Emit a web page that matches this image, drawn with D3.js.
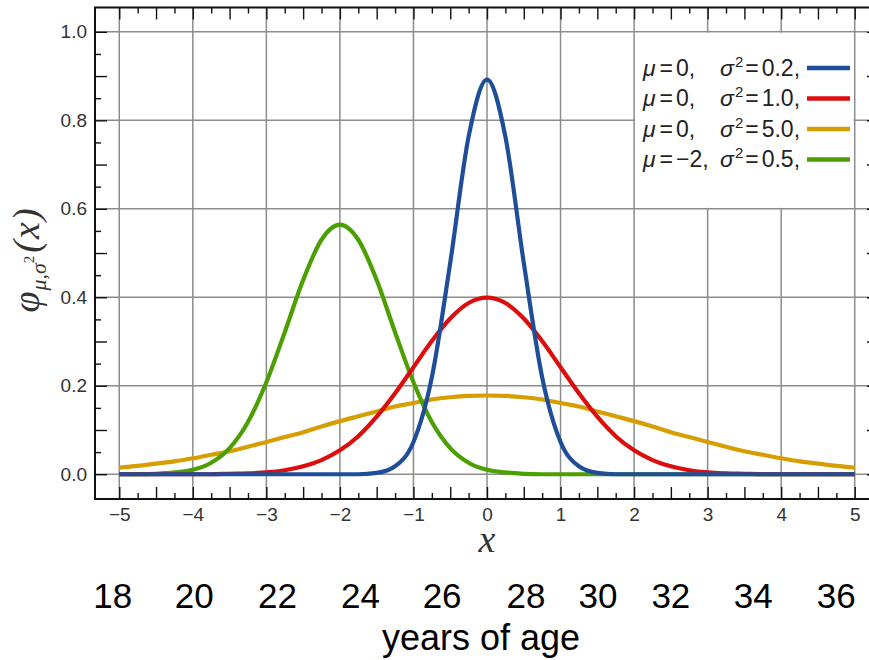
<!DOCTYPE html>
<html>
<head>
<meta charset="utf-8">
<script src="https://cdn.jsdelivr.net/npm/d3@7"></script>
<style>
  html, body { margin: 0; background: #fff; }
</style>
</head>
<body>
<div id="chart"></div>
<script>
// sample positions along x, and the density
const xs = [-5, -4.75, -4.5, -4.25, -4, -3.75, -3.5, -3.25, -3, -2.75, -2.5, -2.25, -2, -1.75, -1.5, -1.25, -1, -0.75, -0.5, -0.25,
            0, 0.25, 0.5, 0.75, 1, 1.25, 1.5, 1.75, 2, 2.25, 2.5, 2.75, 3, 3.25, 3.5, 3.75, 4, 4.25, 4.5, 4.75, 5];

const blueVals = [0, 0, 0, 0, 0, 0, 0, 0, 0, 0, 0, 0, 0, 0.000, 0.003, 0.018, 0.073, 0.219, 0.478, 0.763,
                  0.892, 0.763, 0.478, 0.219, 0.073, 0.018, 0.003, 0.000, 0, 0, 0, 0, 0, 0, 0, 0, 0, 0, 0, 0, 0];
const redVals = [0, 0, 0, 0, 0, 0, 0.001, 0.002, 0.004, 0.009, 0.018, 0.032, 0.054, 0.086, 0.130, 0.183, 0.242, 0.301, 0.352, 0.387,
                 0.399, 0.387, 0.352, 0.301, 0.242, 0.183, 0.130, 0.086, 0.054, 0.032, 0.018, 0.009, 0.004, 0.002, 0.001, 0, 0, 0, 0, 0, 0];
const orangeVals = [0.015, 0.019, 0.024, 0.029, 0.036, 0.044, 0.052, 0.062, 0.073, 0.084, 0.095, 0.108, 0.120, 0.131, 0.142, 0.153, 0.161, 0.169, 0.174, 0.177,
                    0.178, 0.177, 0.174, 0.169, 0.161, 0.153, 0.142, 0.131, 0.120, 0.108, 0.095, 0.084, 0.073, 0.062, 0.052, 0.044, 0.036, 0.029, 0.024, 0.019, 0.015];
const greenVals = [0, 0, 0.001, 0.004, 0.010, 0.026, 0.059, 0.118, 0.208, 0.321, 0.439, 0.530, 0.564, 0.530, 0.439, 0.321, 0.208, 0.118, 0.059, 0.026,
                   0.010, 0.004, 0.001, 0, 0, 0, 0, 0, 0, 0, 0, 0, 0, 0, 0, 0, 0, 0, 0, 0, 0];

const legendMu = ["0", "0", "0", "−2"];
const legendSigma2 = ["0.2", "1.0", "5.0", "0.5"];

const xTickValues = [-5, -4, -3, -2, -1, 0, 1, 2, 3, 4, 5];
const yTickValues = [0, 0.2, 0.4, 0.6, 0.8, 1.0];

// age labels and where each one sits on the x axis
const ageLabels = [18, 20, 22, 24, 26, 28, 30, 32, 34, 36];
const ageAtX = [-5.09, -3.98, -2.85, -1.72, -0.61, 0.53, 1.51, 2.50, 3.62, 4.75];

const width = 869, height = 660;
const frame = { left: 95, right: 879, top: 7.5, bottom: 499 };

const svg = d3.select("#chart")
  .append("svg")
  .attr("width", width)
  .attr("height", height)
  .style("background", "white");

const x = d3.scaleLinear().domain([-5.33, 5.33]).range([frame.left, frame.right]);
const y = d3.scaleLinear().domain([-0.056, 1.055]).range([frame.bottom, frame.top]);

// grid
const grid = svg.append("g").attr("stroke", "#8c8c8c").attr("stroke-width", 1.5);
grid.selectAll("line.v").data(xTickValues).join("line")
  .attr("class", "v")
  .attr("x1", d => x(d)).attr("x2", d => x(d))
  .attr("y1", frame.top).attr("y2", frame.bottom);
grid.selectAll("line.h").data(yTickValues).join("line")
  .attr("class", "h")
  .attr("x1", frame.left).attr("x2", frame.right)
  .attr("y1", d => y(d)).attr("y2", d => y(d));

// small ticks on all four sides
const quarter = d3.range(-5, 5.001, 0.25);
const xMinor = quarter.filter(v => Math.abs(v * 2 - Math.round(v * 2)) > 1e-6);
const xHalf = quarter.filter(v => Math.abs(v * 2 - Math.round(v * 2)) < 1e-6);
const twentieth = d3.range(0, 1.0001, 0.05);
const yMinor = twentieth.filter(v => Math.abs(v * 10 - Math.round(v * 10)) > 1e-6);
const yHalf = twentieth.filter(v => Math.abs(v * 10 - Math.round(v * 10)) < 1e-6);

function tickAxis(axis, tx, ty) {
  const g = svg.append("g").attr("transform", `translate(${tx},${ty})`).call(axis);
  g.select(".domain").remove();
  g.selectAll(".tick line").attr("stroke", "#111").attr("stroke-width", 1.4);
  return g;
}
tickAxis(d3.axisTop(x).tickValues(xMinor).tickSize(6).tickFormat(""), 0, frame.bottom);
tickAxis(d3.axisTop(x).tickValues(xHalf).tickSize(12).tickFormat(""), 0, frame.bottom);
tickAxis(d3.axisBottom(x).tickValues(xMinor).tickSize(6).tickFormat(""), 0, frame.top);
tickAxis(d3.axisBottom(x).tickValues(xHalf).tickSize(12).tickFormat(""), 0, frame.top);
tickAxis(d3.axisRight(y).tickValues(yMinor).tickSize(6).tickFormat(""), frame.left, 0);
tickAxis(d3.axisRight(y).tickValues(yHalf).tickSize(12).tickFormat(""), frame.left, 0);
tickAxis(d3.axisLeft(y).tickValues(yMinor).tickSize(6).tickFormat(""), frame.right, 0);
tickAxis(d3.axisLeft(y).tickValues(yHalf).tickSize(12).tickFormat(""), frame.right, 0);

// legend panel covers the grid cells x in [2,5], y in [0.6,1.0]
svg.append("rect")
  .attr("x", x(2) + 1).attr("y", y(1.0) + 1)
  .attr("width", x(5) - x(2) - 2).attr("height", y(0.6) - y(1.0) - 2)
  .attr("fill", "white");

// curves
const colors = ["#1f4e99", "#dc0d0d", "#d69e00", "#4c9f00"];
const series = [
  { vals: orangeVals, color: colors[2] },
  { vals: greenVals, color: colors[3] },
  { vals: redVals, color: colors[1] },
  { vals: blueVals, color: colors[0] }
];
const line = d3.line()
  .x((d, i) => x(xs[i]))
  .y(d => y(d))
  .curve(d3.curveMonotoneX);
svg.append("g").selectAll("path").data(series).join("path")
  .attr("d", d => line(d.vals))
  .attr("fill", "none")
  .attr("stroke", d => d.color)
  .attr("stroke-width", 4.2);

// frame
svg.append("rect")
  .attr("x", frame.left).attr("y", frame.top)
  .attr("width", frame.right - frame.left).attr("height", frame.bottom - frame.top)
  .attr("fill", "none").attr("stroke", "#111").attr("stroke-width", 2);

// tick labels
const xLab = svg.append("g").attr("transform", `translate(0,${frame.bottom})`)
  .call(d3.axisBottom(x).tickValues(xTickValues).tickSize(0).tickPadding(9).tickFormat(d3.format("d")));
xLab.select(".domain").remove();
xLab.selectAll("text").attr("font-family", "Liberation Sans, Arial, sans-serif").attr("font-size", 19).attr("fill", "#333");

const yLab = svg.append("g").attr("transform", `translate(${frame.left},0)`)
  .call(d3.axisLeft(y).tickValues(yTickValues).tickSize(0).tickPadding(8).tickFormat(d3.format(".1f")));
yLab.select(".domain").remove();
yLab.selectAll("text").attr("font-family", "Liberation Sans, Arial, sans-serif").attr("font-size", 19).attr("fill", "#333");

// axis titles
svg.append("text")
  .attr("x", x(0)).attr("y", 552)
  .attr("text-anchor", "middle")
  .attr("font-family", "Liberation Serif, serif")
  .attr("font-style", "italic")
  .attr("font-size", 38)
  .attr("fill", "#333")
  .text("x");

const yTitle = svg.append("text")
  .attr("transform", "translate(39,260) rotate(-90)")
  .attr("text-anchor", "middle")
  .attr("font-family", "Liberation Serif, serif")
  .attr("font-style", "italic")
  .attr("font-size", 38)
  .attr("fill", "#333");
yTitle.append("tspan").text("φ");
yTitle.append("tspan").attr("font-size", 22).attr("dy", 7).attr("dx", 1).text("μ,σ");
yTitle.append("tspan").attr("font-size", 15).attr("dy", -12).attr("font-style", "normal").text("2");
yTitle.append("tspan").attr("dy", 5).attr("dx", 3).attr("letter-spacing", 1).text("(x)");

// legend
const legend = svg.append("g")
  .attr("font-family", "Liberation Sans, Arial, sans-serif")
  .attr("font-size", 23)
  .attr("fill", "#222");
legendMu.forEach((mu, i) => {
  const base = 75.5 + i * 30.5;
  const t1 = legend.append("text").attr("x", 643).attr("y", base);
  t1.append("tspan").attr("font-style", "italic").text("μ");
  t1.append("tspan").attr("dx", 4).text("=");
  t1.append("tspan").attr("dx", 3).text(mu + ",");
  const t2 = legend.append("text").attr("x", 720).attr("y", base);
  t2.append("tspan").attr("font-style", "italic").text("σ");
  t2.append("tspan").attr("font-size", 15).attr("dy", -9).attr("dx", 1).text("2");
  t2.append("tspan").attr("dy", 9).attr("dx", 2).text("=");
  t2.append("tspan").attr("dx", 3).text(legendSigma2[i] + ",");
  legend.append("line")
    .attr("x1", 807).attr("x2", 850)
    .attr("y1", base - 7.5).attr("y2", base - 7.5)
    .attr("stroke", colors[i])
    .attr("stroke-width", 4.5);
});

// age scale below the chart
svg.append("g").selectAll("text").data(ageLabels).join("text")
  .attr("x", (d, i) => x(ageAtX[i]))
  .attr("y", 608)
  .attr("text-anchor", "middle")
  .attr("font-family", "Liberation Sans, Arial, sans-serif")
  .attr("font-size", 35)
  .attr("fill", "#000")
  .text(d => d);

svg.append("text")
  .attr("x", 481).attr("y", 650)
  .attr("text-anchor", "middle")
  .attr("font-family", "Liberation Sans, Arial, sans-serif")
  .attr("font-size", 36)
  .attr("fill", "#000")
  .text("years of age");
</script>
</body>
</html>
